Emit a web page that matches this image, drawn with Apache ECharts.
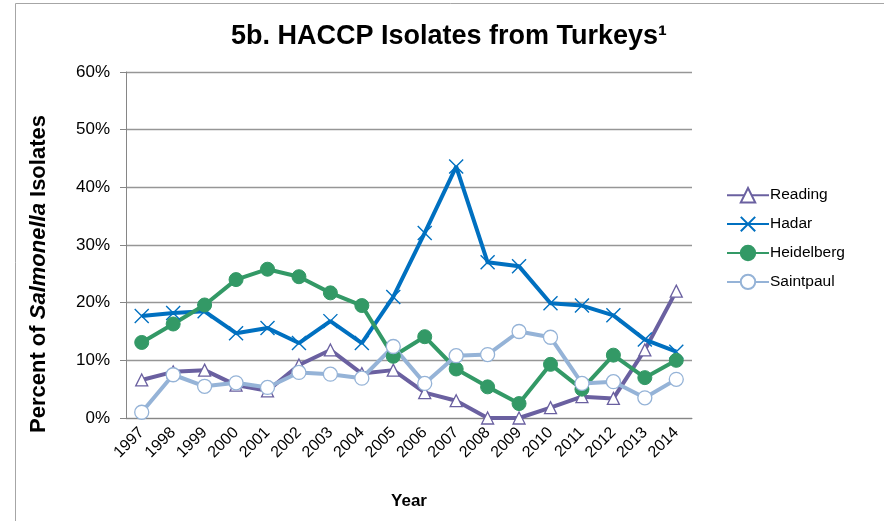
<!DOCTYPE html>
<html><head><meta charset="utf-8">
<script src="https://cdn.jsdelivr.net/npm/echarts@6/dist/echarts.min.js"></script>
<style>html,body{margin:0;padding:0;background:#fff}#c{width:884px;height:521px}</style>
</head><body><div id="c"></div>
<script>
var years = ['1997','1998','1999','2000','2001','2002','2003','2004','2005','2006','2007','2008','2009','2010','2011','2012','2013','2014'];
var reading    = [6.6, 8.0, 8.3, 5.7, 4.7, 9.2, 11.8, 7.7, 8.3, 4.4, 3.0, 0.0, 0.0, 1.8, 3.7, 3.4, 11.8, 22.0];
var hadar      = [17.7, 18.2, 18.5, 14.7, 15.6, 13.0, 16.8, 13.0, 21.0, 32.1, 43.6, 27.0, 26.3, 19.9, 19.5, 17.8, 13.6, 11.5];
var heidelberg = [13.1, 16.3, 19.6, 24.0, 25.8, 24.5, 21.7, 19.5, 10.7, 14.1, 8.5, 5.4, 2.5, 9.3, 5.0, 10.9, 7.0, 10.0];
var saintpaul  = [1.0, 7.5, 5.5, 6.1, 5.3, 7.9, 7.6, 6.9, 12.4, 6.0, 10.8, 11.0, 15.0, 14.0, 6.0, 6.3, 3.5, 6.7];

var font = 'Arial, "Liberation Sans", sans-serif';
function ser(name, data, color, symbol, size, filled, bw) {
  return {
    name: name, type: 'line', data: data,
    symbol: symbol, symbolSize: size, showSymbol: true,
    lineStyle: {color: color, width: 4, type: 'solid'},
    itemStyle: {color: filled ? color : '#ffffff', borderColor: color, borderWidth: bw},
    emphasis: {disabled: true}
  };
}
var crossPath = 'path://M0,0 L10,10 M10,0 L0,10';
var chart = echarts.init(document.getElementById('c'));
chart.setOption({
  animation: false,
  backgroundColor: '#fff',
  graphic: [{type: 'rect', shape: {x: 15.5, y: 3.5, width: 900, height: 600}, style: {fill: 'none', stroke: '#a6a6a6', lineWidth: 1}, silent: true}],
  title: {
    text: '5b. HACCP Isolates from Turkeys¹',
    left: 444, top: 18, textAlign: 'center',
    textStyle: {fontFamily: font, fontSize: 27, fontWeight: 'bold', color: '#000'}
  },
  legend: {
    orient: 'vertical', left: 721, top: 182, itemGap: 12.5,
    itemWidth: 42, itemHeight: 18,
    textStyle: {fontFamily: font, fontSize: 15.5, color: '#000', padding: [0,0,0,-4]},
    data: ['Reading','Hadar','Heidelberg','Saintpaul']
  },
  grid: {left: 126, right: 192, top: 72, bottom: 103},
  xAxis: {
    type: 'category', data: years, boundaryGap: true,
    axisLine: {lineStyle: {color: '#868686', width: 1}},
    axisTick: {show: false},
    axisLabel: {rotate: 45, fontFamily: font, fontSize: 16, color: '#000', margin: 12, interval: 0},
    name: 'Year', nameLocation: 'middle', nameGap: 75,
    nameTextStyle: {fontFamily: font, fontSize: 17, fontWeight: 'bold', color: '#000'}
  },
  yAxis: {
    type: 'value', min: 0, max: 60, interval: 10,
    axisLine: {show: true, lineStyle: {color: '#868686', width: 1}},
    axisTick: {show: true, length: 6, lineStyle: {color: '#868686'}},
    splitLine: {lineStyle: {color: '#969696', width: 1.3}},
    axisLabel: {formatter: '{value}%', fontFamily: font, fontSize: 17, color: '#000', margin: 16},
    name: '{b|Percent of }{i|Salmonella}{b| Isolates}',
    nameLocation: 'middle', nameGap: 76, nameRotate: 90,
    nameTextStyle: {
      padding: [0, 58, 0, 0],
      rich: {
        b: {fontFamily: font, fontSize: 22, fontWeight: 'bold', color: '#000'},
        i: {fontFamily: font, fontSize: 22, fontWeight: 'bold', fontStyle: 'italic', color: '#000'}
      }
    }
  },
  series: [
    ser('Reading', reading, '#6a60a0', 'triangle', 12, false, 1.3),
    ser('Hadar', hadar, '#0070c0', crossPath, 14, false, 1.4),
    ser('Heidelberg', heidelberg, '#339966', 'circle', 14, true, 1),
    ser('Saintpaul', saintpaul, '#95b3d7', 'circle', 14, false, 1.3)
  ]
});
</script></body></html>
